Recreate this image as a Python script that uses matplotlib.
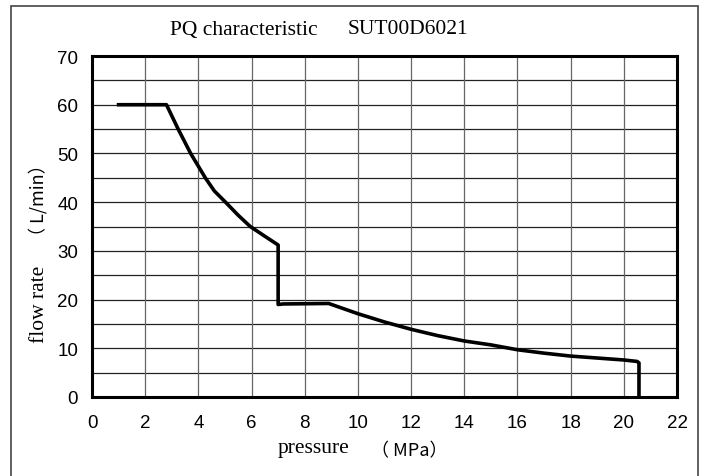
import matplotlib.pyplot as plt
from matplotlib.patches import Rectangle

# PQ curve
pressure = [1.0, 2.8, 3.24, 3.71, 4.26, 4.6, 5.02, 5.5, 5.95, 6.5, 7.0, 7.0, 7.2, 8.9,
            10.0, 11.0, 12.0, 13.0, 14.0, 15.0, 16.0, 17.0, 18.0, 19.0, 20.0, 20.5, 20.57, 20.57]
flow = [60.0, 60.0, 55.0, 50.0, 45.0, 42.3, 40.0, 37.3, 35.0, 33.0, 31.2, 19.0, 19.1, 19.2,
        17.1, 15.4, 13.9, 12.6, 11.5, 10.7, 9.7, 9.0, 8.4, 8.0, 7.6, 7.3, 7.0, 0.0]

x_ticks = list(range(0, 23, 2))
y_ticks = list(range(0, 71, 10))
y_grid = list(range(0, 71, 5))

serif = 'Liberation Serif'
jp = ['Noto Sans CJK JP', 'DejaVu Sans']

fig = plt.figure(figsize=(7.07, 4.77), dpi=100)
ax = fig.add_axes([92 / 707, 1 - 398 / 477, 585 / 707, 341 / 477])

for y in y_grid:
    ax.axhline(y, color='#222222', lw=0.9, zorder=1)
for x in x_ticks:
    ax.axvline(x, color='#666666', lw=0.9, zorder=1)

ax.plot(pressure, flow, color='black', lw=2.6, solid_joinstyle='round', zorder=3)

ax.set_xlim(0, 22)
ax.set_ylim(0, 70)
ax.set_xticks(x_ticks)
ax.set_yticks(y_ticks)
ax.tick_params(axis='x', length=0, pad=12, labelsize=13.5)
ax.tick_params(axis='y', length=0, pad=10, labelsize=13.5)
for lab in ax.get_xticklabels() + ax.get_yticklabels():
    lab.set_family('Liberation Sans')
for s in ax.spines.values():
    s.set_linewidth(2.2)
    s.set_zorder(4)

fig.text(170 / 707, 1 - 30 / 477, 'PQ characteristic', family=serif,
         fontsize=15.5, va='center', ha='left')
fig.text(348 / 707, 1 - 30 / 477, 'SUT00D6021', family=serif,
         fontsize=15.5, va='center', ha='left')
fig.text(314 / 707, 1 - 449 / 477, 'pressure', family=serif, fontsize=15.5,
         va='center', ha='center')
fig.text(409 / 707, 1 - 451 / 477, '（ MPa）', family=jp, fontsize=13,
         va='center', ha='center')
fig.text(40 / 707, 1 - 304 / 477, 'flow rate', family=serif, fontsize=15.5,
         va='center', ha='center', rotation=90)
fig.text(38 / 707, 1 - 200 / 477, '（ L/min）', family=jp, fontsize=13,
         va='center', ha='center', rotation=90)

# outer frame, open at the bottom edge
fig.add_artist(Rectangle((11 / 707, -0.05), 687 / 707, 1.05 - 7 / 477,
                         transform=fig.transFigure, fill=False,
                         edgecolor='#444444', lw=1.2))

fig.savefig('out.png', dpi=100)
